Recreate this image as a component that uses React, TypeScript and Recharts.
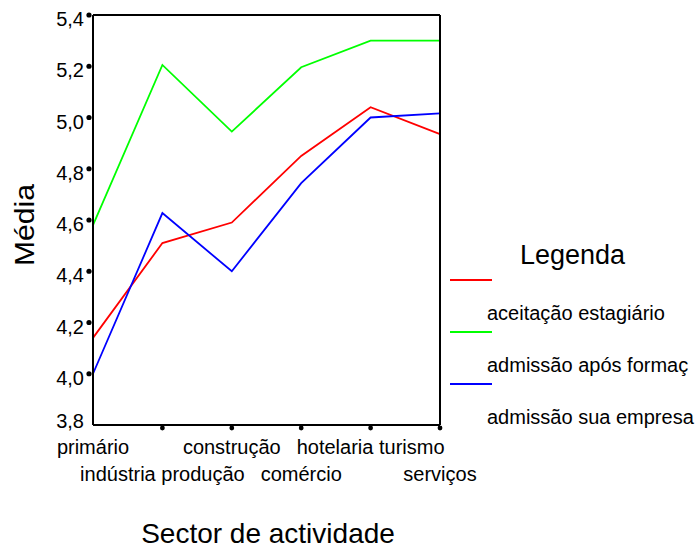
import React from "react";
import { LineChart, Line, XAxis, YAxis, Legend } from "recharts";

const categories = ["primário", "indústria produção", "construção", "comércio", "hotelaria turismo", "serviços"];
const aceitacao = [4.14, 4.51, 4.59, 4.85, 5.04, 4.935];
const admissaoApos = [4.58, 5.205, 4.945, 5.196, 5.30, 5.30];
const admissaoSua = [4.0, 4.627, 4.40, 4.744, 5.0, 5.016];
const yTicks = [3.8, 4.0, 4.2, 4.4, 4.6, 4.8, 5.0, 5.2, 5.4];

const seriesInfo = [
  { key: "aceitacao", name: "aceitação estagiário", color: "#ff0000" },
  { key: "apos", name: "admissão após formaç", color: "#00ff00" },
  { key: "sua", name: "admissão sua empresa", color: "#0000ff" },
];

const data = categories.map((c, i) => ({
  cat: c,
  aceitacao: aceitacao[i],
  apos: admissaoApos[i],
  sua: admissaoSua[i],
}));

const FONT = "'Liberation Sans', Arial, sans-serif";

const YTick = (props: any) => {
  const { x, y, payload, index } = props;
  const isBottom = index === 0;
  return (
    <g>
      {!isBottom && <circle cx={x - 4} cy={y} r={2.6} fill="#000" />}
      <text x={x - 9} y={isBottom ? y + 3 : y + 11} textAnchor="end" fontSize={20} fontFamily={FONT} fill="#000">
        {Number(payload.value).toFixed(1).replace(".", ",")}
      </text>
    </g>
  );
};

const XTick = (props: any) => {
  const { x, y, payload, index } = props;
  const row2 = index % 2 === 1;
  return (
    <g>
      {index > 0 && <circle cx={x} cy={y + 3} r={2.4} fill="#000" />}
      <text x={x} y={row2 ? y + 56 : y + 29} textAnchor="middle" fontSize={20} fontFamily={FONT} fill="#000">
        {payload.value}
      </text>
    </g>
  );
};

const LegendContent = () => (
  <div style={{ position: "relative", width: 697, height: 551, fontFamily: FONT, color: "#000" }}>
    <div style={{ position: "absolute", left: 520, top: 239, fontSize: 27, lineHeight: "32px" }}>Legenda</div>
    {seriesInfo.map((s, i) => (
      <React.Fragment key={s.key}>
        <div style={{ position: "absolute", left: 450, top: 279 + i * 52, width: 42, height: 2, background: s.color }} />
        <div style={{ position: "absolute", left: 487, top: 301 + i * 52, fontSize: 20, lineHeight: "24px", whiteSpace: "nowrap" }}>{s.name}</div>
      </React.Fragment>
    ))}
  </div>
);

export default function App() {
  return (
    <div style={{ position: "absolute", left: 0, top: 0, width: 697, height: 551, background: "#fff" }}>
      <LineChart width={697} height={551} data={data} margin={{ top: 0, right: 0, bottom: 0, left: 0 }}>
        <XAxis
          dataKey="cat"
          xAxisId="b"
          orientation="bottom"
          padding={{ left: 0, right: 0 }}
          axisLine={{ stroke: "#000", strokeWidth: 2 }}
          tickLine={false}
          tickSize={0}
          tickMargin={0}
          tick={<XTick />}
          interval={0}
          height={126}
        />
        <XAxis
          xAxisId="t"
          orientation="top"
          dataKey="cat"
          padding={{ left: 0, right: 0 }}
          tick={false}
          tickLine={false}
          axisLine={{ stroke: "#000", strokeWidth: 2 }}
          height={15}
        />
        <YAxis
          yAxisId="l"
          orientation="left"
          domain={[3.8, 5.4]}
          ticks={yTicks}
          type="number"
          axisLine={{ stroke: "#000", strokeWidth: 2 }}
          tickLine={false}
          tickSize={0}
          tickMargin={0}
          tick={<YTick />}
          width={93}
          interval={0}
        />
        <YAxis
          yAxisId="r"
          orientation="right"
          domain={[3.8, 5.4]}
          tick={false}
          tickLine={false}
          axisLine={{ stroke: "#000", strokeWidth: 2 }}
          width={257}
        />
        <Legend
          layout="vertical"
          align="center"
          verticalAlign="middle"
          content={<LegendContent />}
          wrapperStyle={{ position: "absolute", left: 0, top: 0, width: 697, height: 551 }}
        />
        {seriesInfo.map((s) => (
          <Line
            key={s.key}
            xAxisId="b"
            yAxisId="l"
            dataKey={s.key}
            name={s.name}
            stroke={s.color}
            strokeWidth={1.8}
            dot={false}
            isAnimationActive={false}
            type="linear"
          />
        ))}
        <text x={25} y={225} transform="rotate(-90 25 225)" textAnchor="middle" dominantBaseline="central" fontSize={27} textLength={82} lengthAdjust="spacingAndGlyphs" fontFamily={FONT} fill="#000">Média</text>
        <text x={268} y={543} textAnchor="middle" fontSize={28} fontFamily={FONT} fill="#000">Sector de actividade</text>
      </LineChart>
    </div>
  );
}
